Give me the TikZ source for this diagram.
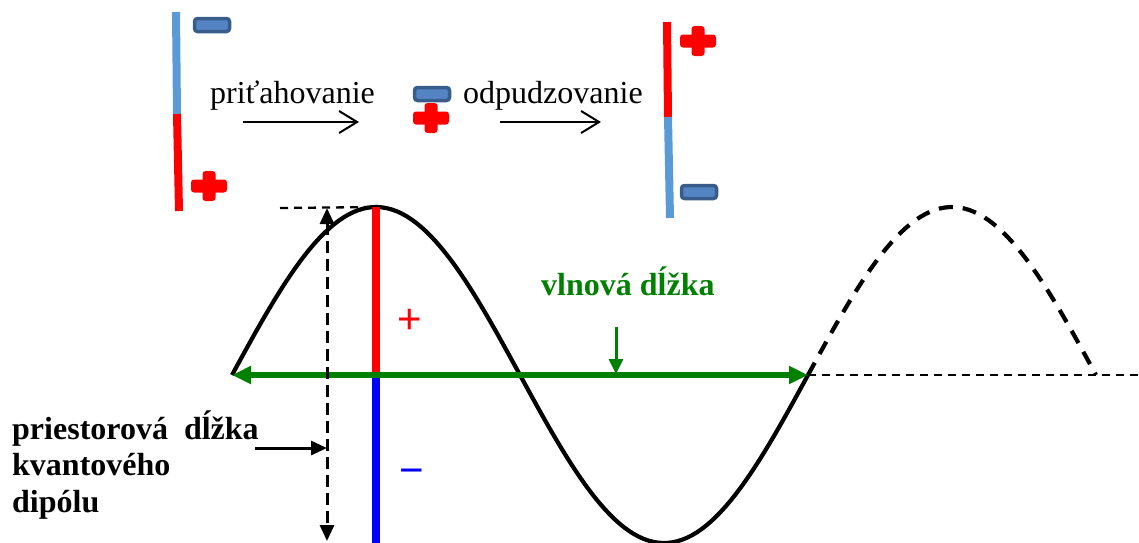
\documentclass[tikz,border=0pt]{standalone}
\usepackage{fontspec}
\setmainfont{Liberation Serif}
\newfontfamily\signfont{Liberation Sans}
\usetikzlibrary{arrows.meta,positioning}
\definecolor{DipoleBlue}{HTML}{5B9BD5}
\definecolor{ChargeBlue}{HTML}{5584C4}
\definecolor{ChargeEdge}{HTML}{385D8A}
\definecolor{WaveGreen}{HTML}{008000}

\begin{document}
\begin{tikzpicture}[
    x=1pt, y=-1pt,
    txt/.style={inner sep=0pt, anchor=base west, font=\fontsize{32}{36.5}\selectfont},
    boldtxt/.style={txt, font=\fontsize{32}{36.5}\selectfont\bfseries},
    signtxt/.style={inner sep=0pt, font=\signfont\fontsize{42}{42}\selectfont},
    negcharge/.style={draw=ChargeEdge, fill=ChargeBlue, line width=3.5pt, rounded corners=3pt,
      minimum width=35pt, minimum height=13pt, inner sep=0pt},
    pluscharge/.pic={
      \fill[red, rounded corners=3pt] (-18,-6.5) rectangle (18,6.5);
      \fill[red, rounded corners=3pt] (-6.5,-15) rectangle (6.5,15);},
    bar/.style={line width=8pt},
    force/.style={-{Straight Barb[length=18pt,width=22pt]}, line width=2pt},
    wave/.style={line width=4.2pt},
    ghostwave/.style={wave, dash pattern=on 14pt off 10pt},
    guide/.style={line width=2.3pt, dash pattern=on 8pt off 6pt},
    wavelength/.style={{Triangle[length=19pt,width=17pt]}-{Triangle[length=19pt,width=17pt]},
      line width=6pt, draw=WaveGreen},
    greenptr/.style={-{Triangle[length=15pt,width=14pt]}, line width=3pt, draw=WaveGreen},
    span/.style={{Triangle[length=16pt,width=14pt]}-{Triangle[length=16pt,width=14pt]},
      line width=3pt, dash pattern=on 12pt off 6pt},
    ptr/.style={-{Triangle[length=16pt,width=14pt]}, line width=3pt}
  ]
  \useasboundingbox (0,0) rectangle (1139,542);

  \coordinate (ltop) at (176,12);
  \coordinate (lmid) at (177,114);
  \coordinate (lbot) at (179,211);
  \draw[bar, DipoleBlue] (ltop) -- (lmid);
  \draw[bar, red] (lmid) -- (lbot);
  \node[negcharge] (lneg) at (212,25) {};
  \pic at (209,186) {pluscharge};

  \node[txt] (attract) at (210,103) {priťahovanie};
  \coordinate (attractfrom) at (243,122);
  \coordinate (attractto) at (359,122);
  \draw[force] (attractfrom) -- (attractto);

  \node[negcharge] (mneg) at (432,94) {};
  \pic at (431,118) {pluscharge};

  \node[txt] (repel) at (463,103) {odpudzovanie};
  \coordinate (repelfrom) at (500,122);
  \coordinate (repelto) at (601,122);
  \draw[force] (repelfrom) -- (repelto);

  \coordinate (rtop) at (667,22);
  \coordinate (rmid) at (668,117);
  \coordinate (rbot) at (670,218);
  \draw[bar, red] (rtop) -- (rmid);
  \draw[bar, DipoleBlue] (rmid) -- (rbot);
  \pic at (698,41) {pluscharge};
  \node[negcharge] (rneg) at (699,192) {};

  \draw[wave] plot[domain=232:808, samples=120] (\x, {375-168*sin((\x-232)*0.625)});
  \draw[ghostwave] plot[domain=808:1096, samples=60] (\x, {375-168*sin((\x-232)*0.625)});
  \coordinate (axisright) at (1139,375);
  \coordinate (wr) at (808,375);
  \draw[guide] (wr) -- (axisright);

  \coordinate (peak) at (376,207);
  \coordinate (axis) at (376,375);
  \coordinate (bottom) at (376,545);
  \draw[bar, red] (peak) -- (axis);
  \draw[bar, blue] (axis) -- (bottom);
  \node[signtxt, text=red] (plussign) at (410,321) {+};
  \node[signtxt, text=blue] (minussign) at (412,477) {−};

  \coordinate (wl) at (232,375);
  \draw[wavelength] (wl) -- (wr);
  \node[boldtxt, text=WaveGreen] (wavename) at (541,295) {vlnová dĺžka};
  \coordinate (greenfrom) at (616,327);
  \coordinate (greento) at (616,374);
  \draw[greenptr] (greenfrom) -- (greento);

  \coordinate (tickleft) at (280,208);
  \draw[guide] (tickleft) -- (peak);
  \coordinate (spantop) at (327,208);
  \coordinate (spanbot) at (327,541);
  \draw[span] (spantop) -- (spanbot);

  \node[boldtxt, align=left] (dipolename) at (12,512) {priestorová~~dĺžka\\kvantového\\dipólu};
  \coordinate (dipoleptr) at (255,448);
  \draw[ptr] (dipoleptr) -- (dipoleptr -| spantop);
\end{tikzpicture}
\end{document}
